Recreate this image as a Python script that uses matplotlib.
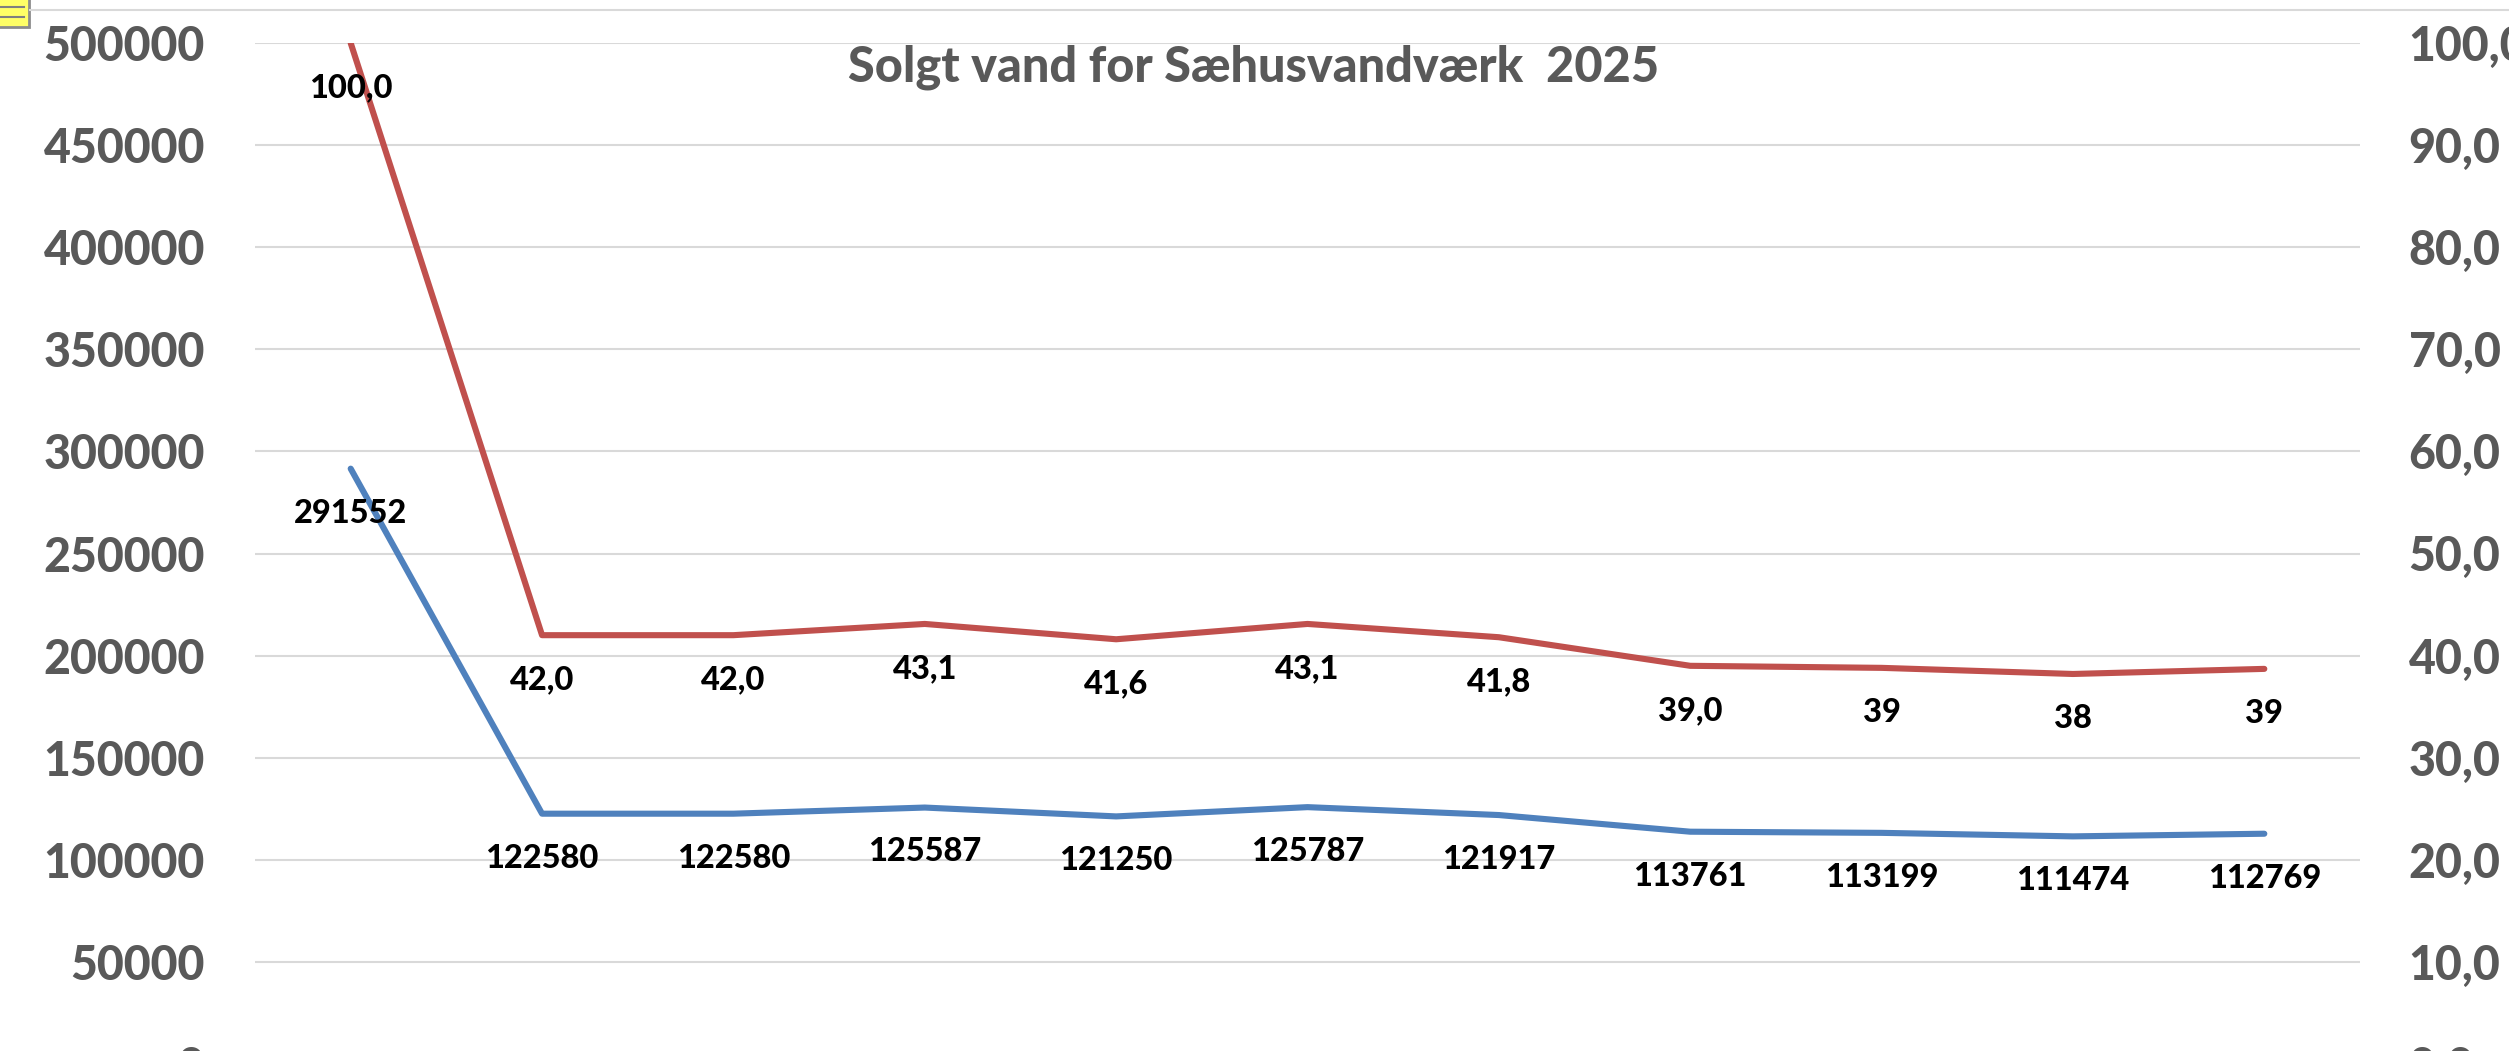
import matplotlib
matplotlib.use("Agg")
import matplotlib.pyplot as plt
from matplotlib.lines import Line2D
from matplotlib.patches import Rectangle

W = 2509
H = 1051

#data
months = list(range(11))
solgt = [291552, 122580, 122580, 125587, 121250, 125787, 121917, 113761, 113199, 111474, 112769]
procent = [100.0, 42.0, 42.0, 43.1, 41.6, 43.1, 41.8, 39.0, 38.8, 38.2, 38.7]
solgt_labels = ["291552", "122580", "122580", "125587", "121250", "125787", "121917", "113761", "113199", "111474", "112769"]
procent_labels = ["100,0", "42,0", "42,0", "43,1", "41,6", "43,1", "41,8", "39,0", "39", "38", "39"]
left_ticks = [0, 50000, 100000, 150000, 200000, 250000, 300000, 350000, 400000, 450000, 500000]
right_ticks = [0, 10, 20, 30, 40, 50, 60, 70, 80, 90, 100]
right_tick_labels = ["0,0", "10,0", "20,0", "30,0", "40,0", "50,0", "60,0", "70,0", "80,0", "90,0", "100,0"]

plt.rcParams["font.family"] = ["Lato", "DejaVu Sans"]
grey = "#595959"

fig = plt.figure(figsize=(W / 100, H / 100), dpi=100)

#plot area runs past the bottom of the image, zero line is cut off
x0, x1 = 255, 2360
y_top, y_bot = 43, 1064
ax = fig.add_axes([x0 / W, (H - y_bot) / H, (x1 - x0) / W, (y_bot - y_top) / H])
ax2 = ax.twinx()

ax.set_xlim(-0.5, 10.5)
ax.set_ylim(0, 500000)
ax2.set_ylim(0, 100)

ax.set_yticks(left_ticks)
ax.set_xticks([])
ax2.set_yticks(right_ticks)
ax2.set_yticklabels(right_tick_labels)
ax.grid(axis="y", color="#D9D9D9", linewidth=1.5)
ax.set_axisbelow(True)

ax.tick_params(axis="y", length=0, pad=36, labelsize=33.5, labelcolor=grey)
ax2.tick_params(axis="y", length=0, pad=35, labelsize=33.5, labelcolor=grey)
for t in ax.get_yticklabels() + ax2.get_yticklabels():
    t.set_fontweight("black")
    t.set_clip_on(False)

for a in [ax, ax2]:
    for s in a.spines.values():
        s.set_visible(False)

ax.plot(months, solgt, color="#4F81BD", linewidth=4.4, solid_capstyle="round", solid_joinstyle="round")
ax2.plot(months, procent, color="#C0504D", linewidth=4.4, solid_capstyle="round", solid_joinstyle="round")

#data labels sit a fixed distance under each point
for i in months:
    ax2.annotate(procent_labels[i], (i, procent[i]), xytext=(0, -32), textcoords="offset points",
                 ha="center", va="center", fontsize=23.5, fontweight="black", color="black")
    ax2.annotate(solgt_labels[i], (i, solgt[i] / 5000), xytext=(0, -32), textcoords="offset points",
                 ha="center", va="center", fontsize=23.5, fontweight="black", color="black")

fig.text(1254 / W, 1 - 67 / H, "Solgt vand for Sæhusvandværk  2025", ha="center", va="center",
         fontsize=35, fontweight="black", color=grey)

#top border and the little note icon in the corner
fig.add_artist(Line2D([30 / W, 1], [1 - 10 / H, 1 - 10 / H], color="#D9D9D9", linewidth=1.5))
fig.add_artist(Rectangle((-5 / W, 1 - 27 / H), 34 / W, 32 / H, facecolor="#FFFF66", edgecolor="#8C8C8C", linewidth=2))
fig.add_artist(Line2D([0, 24 / W], [1 - 7 / H, 1 - 7 / H], color="#7F7F7F", linewidth=1.5))
fig.add_artist(Line2D([0, 24 / W], [1 - 17 / H, 1 - 17 / H], color="#7F7F7F", linewidth=1.5))

fig.savefig("out.png", dpi=100)
